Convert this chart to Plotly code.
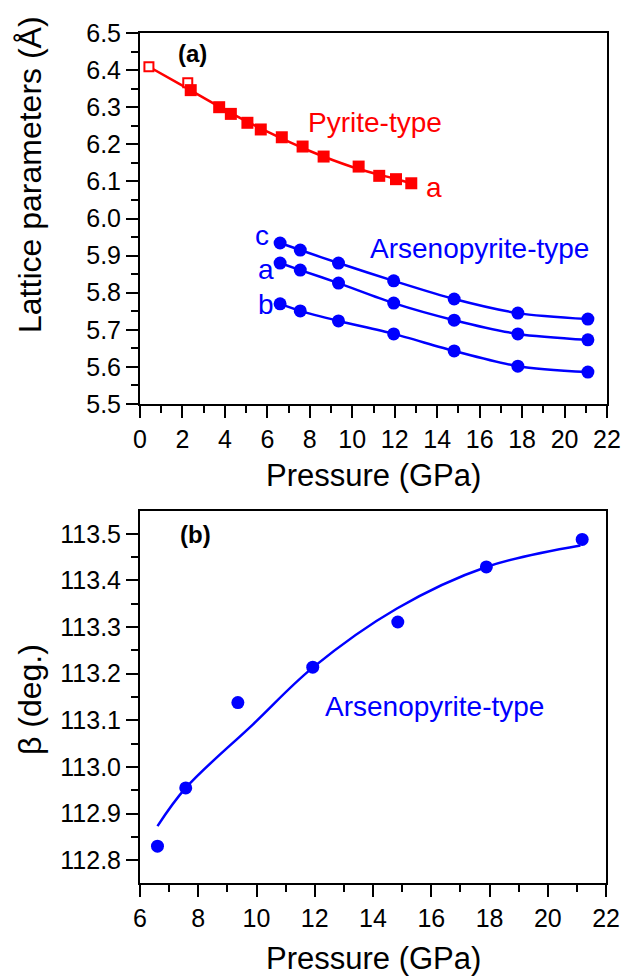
import plotly.graph_objects as go

# ---- Data ----
# Panel (a): pyrite-type lattice parameter a
pyr_open_p = [0.42, 2.25]
pyr_open_a = [6.409, 6.366]
pyr_p = [2.39, 3.73, 4.28, 5.06, 5.69, 6.68, 7.66, 8.65, 10.3, 11.27, 12.06, 12.78]
pyr_a = [6.346, 6.300, 6.282, 6.258, 6.240, 6.219, 6.194, 6.167, 6.140, 6.115, 6.106, 6.095]
pyr_fit_p = [0.42, 2.0, 4.0, 6.0, 8.0, 10.0, 12.0, 12.78]
pyr_fit_a = [6.409, 6.358, 6.293, 6.234, 6.182, 6.139, 6.107, 6.095]

# Panel (a): arsenopyrite-type lattice parameters
ars_p = [6.6, 7.55, 9.35, 11.95, 14.8, 17.8, 21.1]
ars_c = [5.934, 5.915, 5.880, 5.832, 5.783, 5.745, 5.729]
ars_a = [5.880, 5.861, 5.826, 5.772, 5.726, 5.689, 5.673]
ars_b = [5.770, 5.751, 5.724, 5.689, 5.643, 5.602, 5.586]

# Panel (b): monoclinic angle beta
beta_p = [6.6, 7.57, 9.36, 11.93, 14.85, 17.89, 21.18]
beta_v = [112.830, 112.955, 113.138, 113.214, 113.311, 113.429, 113.488]
beta_fit_p = [6.6, 7.57, 9.89, 11.93, 14.82, 17.89, 21.12]
beta_fit_v = [112.873, 112.955, 113.092, 113.213, 113.340, 113.429, 113.475]

RED = "#FF0000"
BLUE = "#0000FF"
FONT = "Liberation Sans, Arial, sans-serif"

fig = go.Figure()

# Panel (a) traces
fig.add_trace(go.Scatter(x=pyr_fit_p, y=pyr_fit_a, mode="lines", line=dict(color=RED, width=2.5, shape="spline"),
                         xaxis="x", yaxis="y", showlegend=False))
fig.add_trace(go.Scatter(x=pyr_open_p, y=pyr_open_a, mode="markers",
                         marker=dict(symbol="square", size=9, color="white", line=dict(color=RED, width=2)),
                         xaxis="x", yaxis="y", showlegend=False))
fig.add_trace(go.Scatter(x=pyr_p, y=pyr_a, mode="markers",
                         marker=dict(symbol="square", size=12, color=RED, line=dict(width=0)),
                         xaxis="x", yaxis="y", showlegend=False))
for series in (ars_c, ars_a, ars_b):
    fig.add_trace(go.Scatter(x=ars_p, y=series, mode="lines+markers",
                             line=dict(color=BLUE, width=2.5, shape="spline", smoothing=0.8),
                             marker=dict(symbol="circle", size=13, color=BLUE),
                             xaxis="x", yaxis="y", showlegend=False))

# Panel (b) traces
fig.add_trace(go.Scatter(x=beta_fit_p, y=beta_fit_v, mode="lines",
                         line=dict(color=BLUE, width=2.5, shape="spline"),
                         xaxis="x2", yaxis="y2", showlegend=False))
fig.add_trace(go.Scatter(x=beta_p, y=beta_v, mode="markers",
                         marker=dict(symbol="circle", size=13, color=BLUE),
                         xaxis="x2", yaxis="y2", showlegend=False))

axis_common = dict(showline=True, linecolor="black", linewidth=2, mirror=True,
                   ticks="outside", ticklen=12, tickwidth=2, tickcolor="black",
                   showgrid=False, zeroline=False,
                   tickfont=dict(family=FONT, size=25, color="black"))

fig.update_layout(
    width=634, height=980,
    margin=dict(l=140, r=27, t=33, b=97),
    paper_bgcolor="white", plot_bgcolor="white",
    xaxis=dict(domain=[0, 1], range=[0, 22], dtick=2, tick0=0, anchor="y",
               minor=dict(dtick=1, ticklen=7, tickwidth=2, tickcolor="black", ticks="outside"),
               **axis_common),
    yaxis=dict(domain=[0.5635, 1], range=[5.5, 6.5], dtick=0.1, tick0=5.5, tickformat=".1f", anchor="x",
               minor=dict(dtick=0.05, ticklen=7, tickwidth=2, tickcolor="black", ticks="outside"),
               **axis_common),
    xaxis2=dict(domain=[0, 0.998], range=[6, 22], dtick=2, tick0=6, anchor="y2",
                minor=dict(dtick=1, ticklen=7, tickwidth=2, tickcolor="black", ticks="outside"),
                **axis_common),
    yaxis2=dict(domain=[0, 0.4376], range=[112.751, 113.549], dtick=0.1, tick0=112.8, tickformat=".1f", anchor="x2",
                minor=dict(dtick=0.05, tick0=112.75, ticklen=7, tickwidth=2, tickcolor="black", ticks="outside"),
                **axis_common),
)

ann = []
def add_text(text, x, y, xref, yref, size, color, bold=False, textangle=0):
    ann.append(dict(text=("<b>%s</b>" % text) if bold else text, x=x, y=y, xref=xref, yref=yref,
                    showarrow=False, textangle=textangle, xanchor="center", yanchor="middle",
                    font=dict(family=FONT, size=size, color=color)))

# Axis titles
add_text("Lattice parameters (Å)", -0.2355, 0.833, "paper", "paper", 32, "black", textangle=-90)
add_text("Pressure (GPa)", 0.5, 0.479, "paper", "paper", 31, "black")
add_text("β (deg.)", -0.2355, 0.2153, "paper", "paper", 32, "black", textangle=-90)
add_text("Pressure (GPa)", 0.5, -0.089, "paper", "paper", 31, "black")

# Panel labels
add_text("(a)", 2.45, 6.446, "x", "y", 24, "black", bold=True)
add_text("(b)", 7.92, 113.498, "x2", "y2", 24, "black", bold=True)
add_text("Pyrite-type", 11.08, 6.26, "x", "y", 28, RED)
add_text("a", 13.85, 6.084, "x", "y", 28, RED)
add_text("Arsenopyrite-type", 15.97, 5.918, "x", "y", 28, BLUE)
add_text("c", 5.75, 5.953, "x", "y", 28, BLUE)
add_text("a", 5.95, 5.862, "x", "y", 28, BLUE)
add_text("b", 5.95, 5.768, "x", "y", 28, BLUE)
add_text("Arsenopyrite-type", 16.1, 113.13, "x2", "y2", 28, BLUE)

fig.update_layout(annotations=ann)
fig.write_html("out.html")
